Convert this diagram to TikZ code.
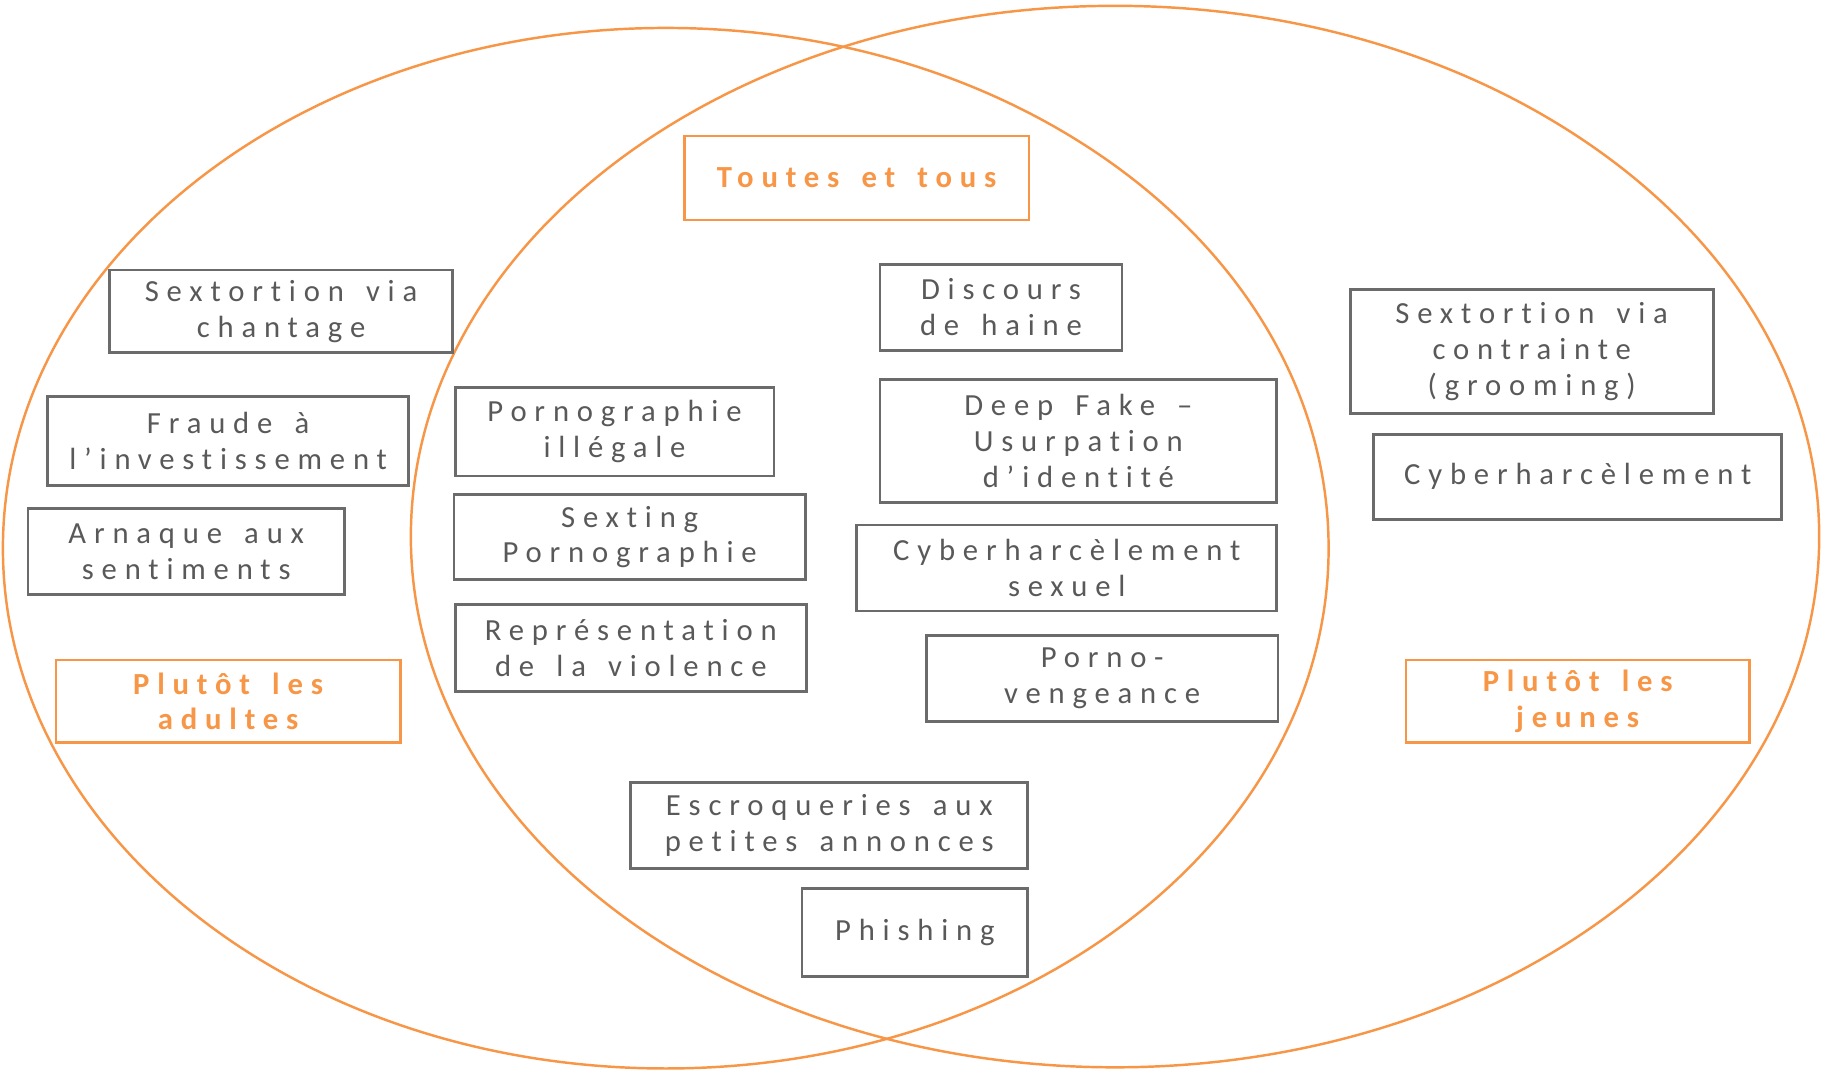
\documentclass[tikz,border=0pt]{standalone}
\usepackage{fontspec}
\setmainfont{Carlito}
\newfontfamily\lbl{Carlito}[LetterSpace=25.5, WordSpace=1.5, Ligatures={NoCommon,NoRequired,NoContextual}]
\definecolor{orng}{HTML}{F79646}
\definecolor{gtext}{HTML}{595959}
\definecolor{gline}{HTML}{6B6B6B}
\tikzset{
  venn/.style={draw=orng, line width=1.2pt},
  gbox/.style={draw=gline, line width=1.4pt, text=gtext, align=center, inner sep=0pt,
    font=\lbl\fontsize{15}{17.5}\selectfont},
  obox/.style={draw=orng, line width=1.2pt, text=orng, align=center, inner sep=0pt,
    font=\lbl\bfseries\fontsize{15}{17.5}\selectfont}
}
\begin{document}
\begin{tikzpicture}[x=0.02cm,y=-0.02cm]
\useasboundingbox (0,0) rectangle (1568,920);
% Venn ellipses
\draw[venn] (572,471) ellipse [x radius=569.5, y radius=447];
\draw[venn] (958,461) ellipse [x radius=605, y radius=456];

% left: adults
\node[gbox, minimum width=5.90cm, minimum height=1.42cm] (chantage) at (241.5,267.5) {Sextortion via\\chantage};
\node[gbox, minimum width=6.20cm, minimum height=1.52cm] (fraude) at (196,379) {Fraude à\\l’investissement};
\node[gbox, minimum width=5.44cm, minimum height=1.48cm] (arnaque) at (160,474) {Arnaque aux\\sentiments};
\node[obox, minimum width=5.92cm, minimum height=1.42cm] (adultes) at (196,602.5) {Plutôt les\\adultes};

% centre: everyone
\node[obox, minimum width=5.92cm, minimum height=1.44cm] (toutes) at (736,153) {Toutes et tous};
\node[gbox, minimum width=4.16cm, minimum height=1.48cm] (discours) at (860,264) {Discours\\de haine};
\node[gbox, minimum width=5.48cm, minimum height=1.52cm] (pornill) at (528,371) {Pornographie\\illégale};
\node[gbox, minimum width=6.82cm, minimum height=2.12cm] (deepfake) at (926.5,379) {Deep Fake –\\Usurpation\\d’identité};
\node[gbox, minimum width=6.04cm, minimum height=1.46cm] (sexting) at (541,461.5) {Sexting\\Pornographie};
\node[gbox, minimum width=7.22cm, minimum height=1.48cm] (cybersex) at (916.5,488) {Cyberharcèlement\\sexuel};
\node[gbox, minimum width=6.04cm, minimum height=1.50cm] (violence) at (542,556.5) {Représentation\\de la violence};
\node[gbox, minimum width=6.04cm, minimum height=1.48cm] (pornov) at (947,583) {Porno-\\vengeance};
\node[gbox, minimum width=6.82cm, minimum height=1.48cm] (escroq) at (712.5,709) {Escroqueries aux\\petites annonces};
\node[gbox, minimum width=3.88cm, minimum height=1.52cm] (phishing) at (786,801) {Phishing};

% right: young people
\node[gbox, minimum width=6.24cm, minimum height=2.12cm] (grooming) at (1316,302) {Sextortion via\\contrainte\\(grooming)};
\node[gbox, minimum width=7.02cm, minimum height=1.46cm] (cyber) at (1355.5,409.5) {Cyberharcèlement};
\node[obox, minimum width=5.90cm, minimum height=1.42cm] (jeunes) at (1355.5,602.5) {Plutôt les\\jeunes};
\end{tikzpicture}
\end{document}
